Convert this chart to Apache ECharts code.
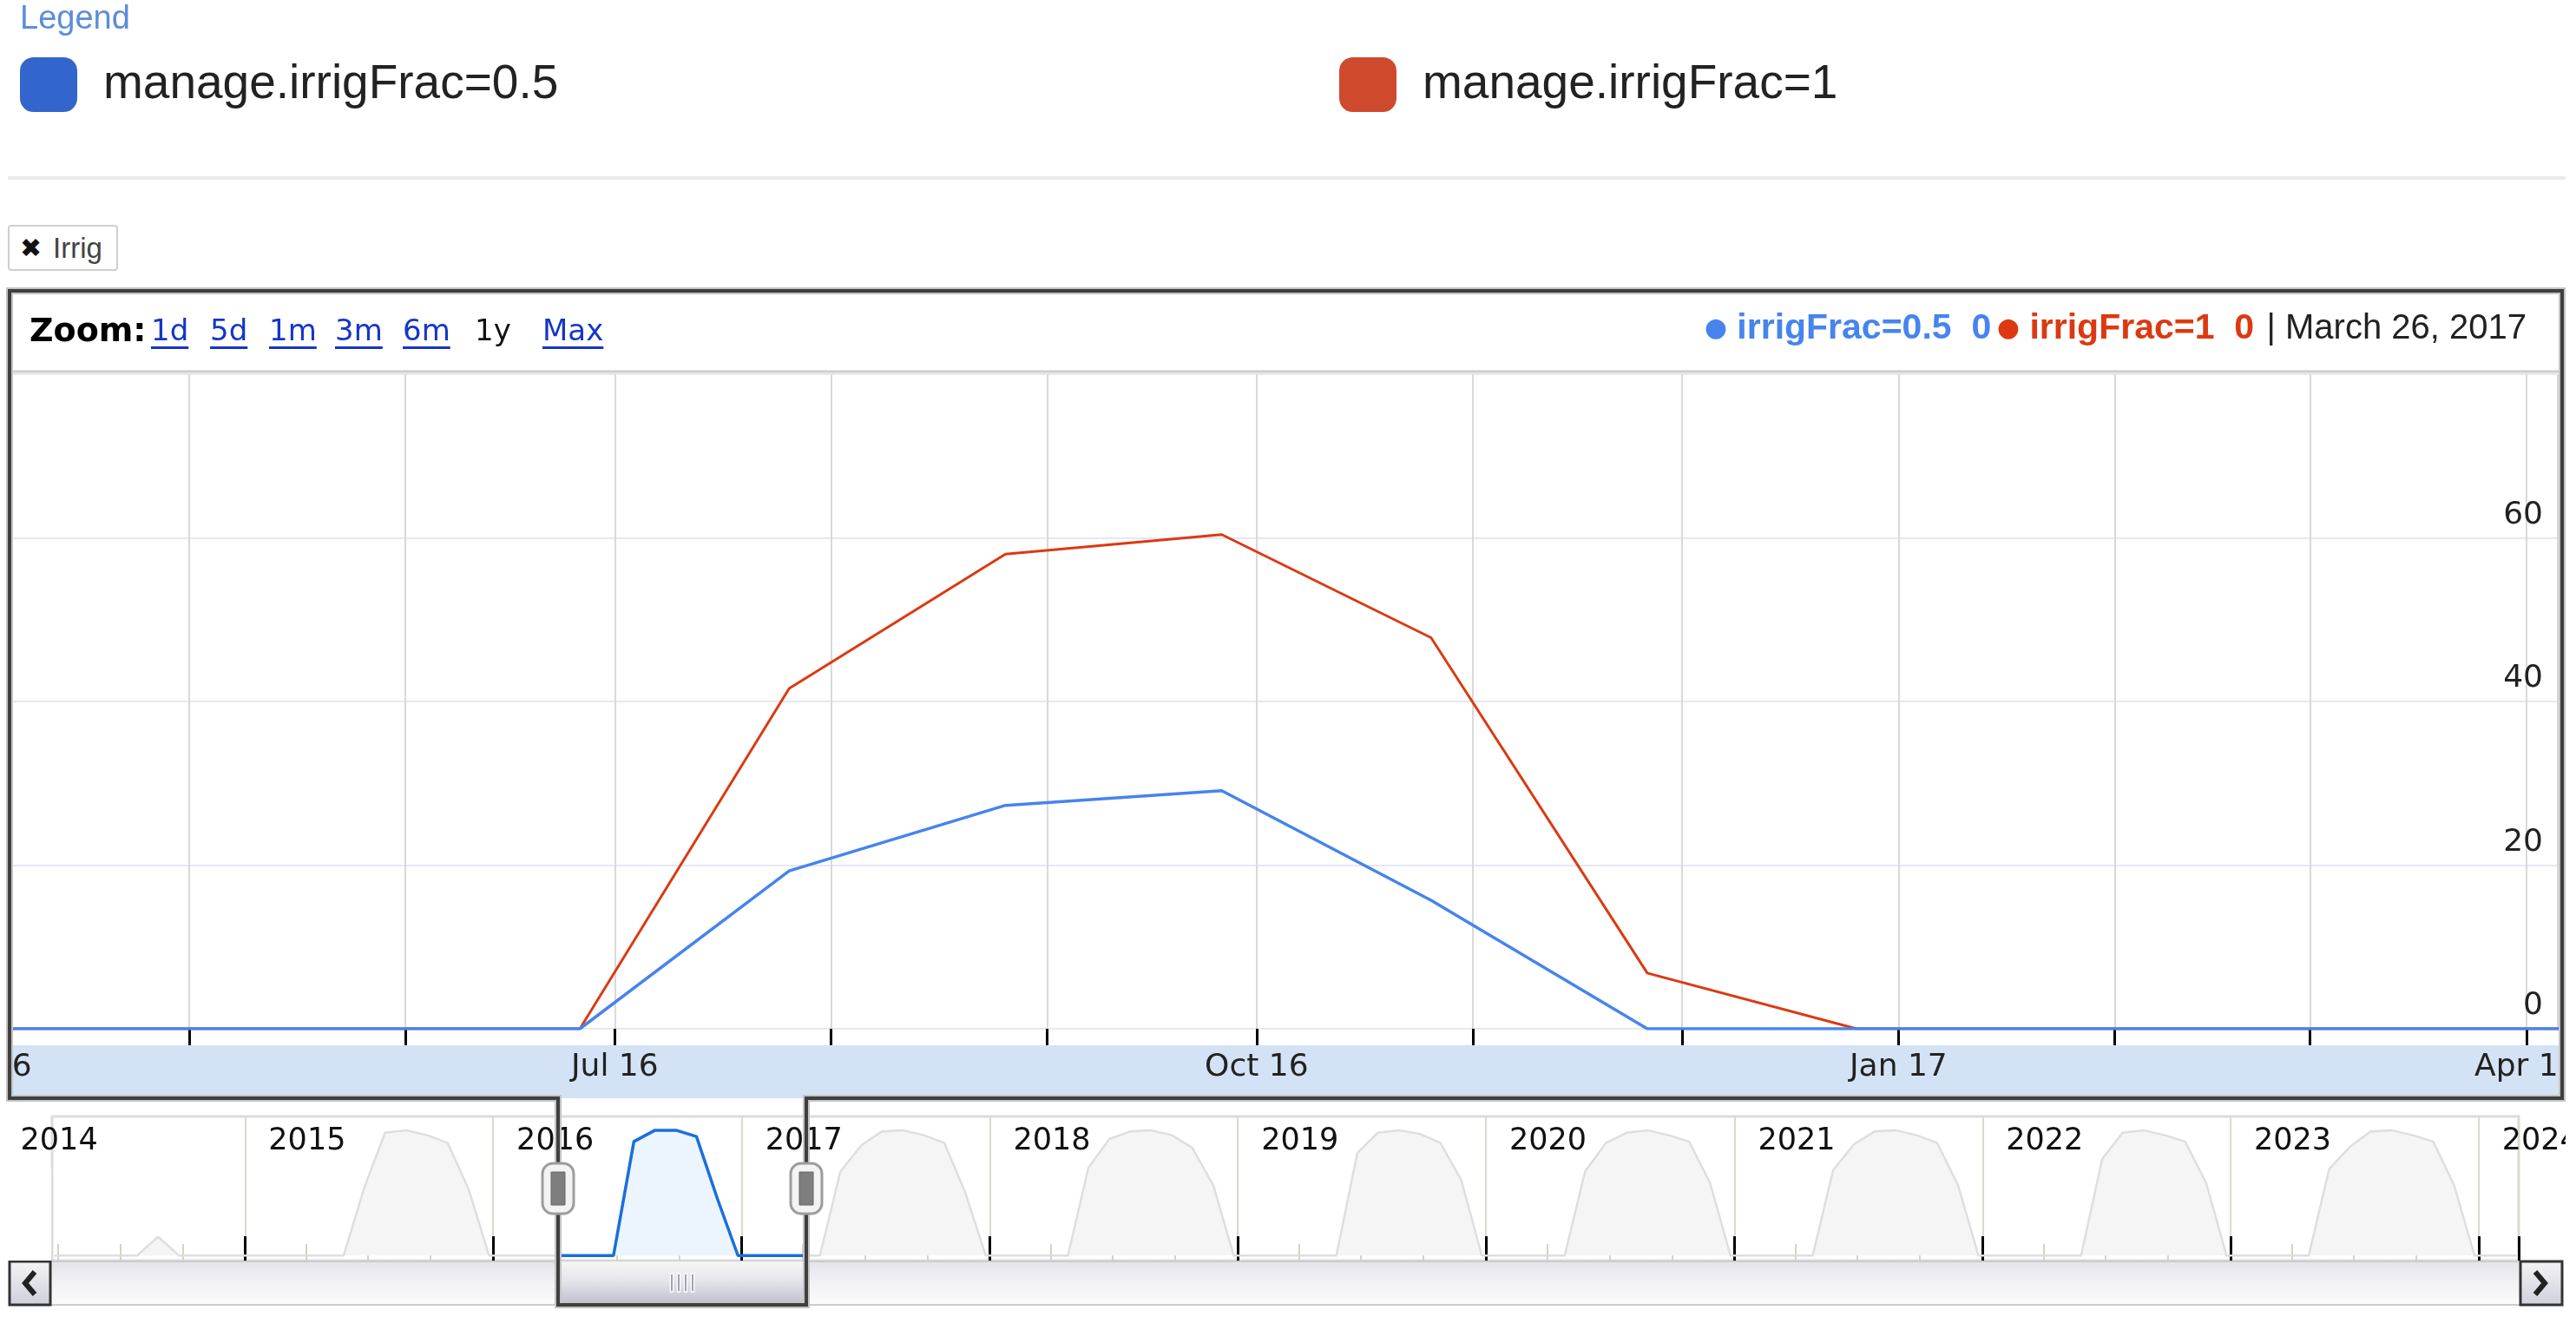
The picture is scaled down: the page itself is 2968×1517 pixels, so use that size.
<!DOCTYPE html>
<html>
<head>
<meta charset="utf-8">
<title>manage.irrigFrac</title>
<script src="https://cdn.jsdelivr.net/npm/echarts@6.0.0/dist/echarts.min.js"></script>
<style>
  html, body { margin: 0; padding: 0; background: #fff; }
  #page { position: relative; width: 2968px; height: 1517px; overflow: hidden; }
  #chart { position: absolute; left: 0; top: 0; width: 2956px; height: 1517px; }
  #irrigBtn {
    position: absolute; left: 9px; top: 259px; width: 123px; height: 49px;
    border: 2px solid #cfcfcf; border-radius: 4px; background: #fff;
    font: 30px "DejaVu Sans"; line-height: 49px; color: #444; z-index: 5;
  }
  #irrigBtn b { position: absolute; left: 12px; color: #111; }
  #irrigBtn span { position: absolute; left: 50px; font-family: "Liberation Sans"; font-size: 33px; }
  #zoomBar { position: absolute; left: 0; top: 360px; height: 40px; z-index: 5; line-height: 40px; }
  #zoomBar span { position: absolute; top: 0; white-space: nowrap; font-family: "DejaVu Sans"; font-size: 34px; }
  #zoomBar .lbl { font-weight: bold; font-size: 38px; color: #000; }
  #zoomBar .lnk { color: #1536c8; text-decoration: underline; text-decoration-thickness: 3px; text-underline-offset: 7px; }
  #zoomBar .cur { color: #111; }
</style>
</head>
<body>
<div id="page">
  <div id="chart"></div>
  <div id="irrigBtn"><b>✖</b><span>Irrig</span></div>
  <div id="zoomBar">
    <span class="lbl" style="left:34px">Zoom:</span>
    <span class="lnk" style="left:174px">1d</span>
    <span class="lnk" style="left:242px">5d</span>
    <span class="lnk" style="left:310px">1m</span>
    <span class="lnk" style="left:386px">3m</span>
    <span class="lnk" style="left:464px">6m</span>
    <span class="cur" style="left:547px">1y</span>
    <span class="lnk" style="left:625px">Max</span>
  </div>
</div>
<script>
// ========================================
// data (monthly samples, the 26th of each month)
// ========================================

const mainDates = [
  '2016-03-26', '2016-04-26', '2016-05-26', '2016-06-26', '2016-07-26',
  '2016-08-26', '2016-09-26', '2016-10-26', '2016-11-26', '2016-12-26',
  '2017-01-26', '2017-02-26', '2017-03-26', '2017-04-26'
];
const irrigHalf = [0, 0, 0, 0, 19.3, 27.3, 29.1, 15.7, 0, 0, 0, 0, 0, 0];
const irrigFull = [0, 0, 0, 0, 41.6, 58.0, 60.4, 47.8, 6.8, 0, 0, 0, 0, 0];

// date shown in the header readout
const readoutDate = '2017-03-26';

const yTicks = [0, 20, 40, 60, 80];

// overview strip, share of the strip height (Mar 2014 .. Feb 2024)
const scope2014 = [0, 0, 0, 0, 0, 0.15, 0, 0, 0, 0]; // Mar..Dec
const scope2015 = [0, 0, 0, 0, 0, 0.55, 0.98, 1.0, 0.96, 0.90, 0.53, 0];
const scope2016 = [0, 0, 0, 0, 0, 0, 0.91, 1.0, 1.0, 0.95, 0.45, 0];
const scope2017 = [0, 0, 0, 0, 0.67, 0.88, 0.99, 1.0, 0.96, 0.90, 0.50, 0];
const scope2018 = [0, 0, 0, 0, 0.70, 0.93, 0.99, 1.0, 0.96, 0.86, 0.56, 0];
const scope2019 = [0, 0, 0, 0, 0, 0.82, 0.98, 1.0, 0.97, 0.90, 0.60, 0];
const scope2020 = [0, 0, 0, 0, 0.67, 0.90, 0.98, 1.0, 0.96, 0.91, 0.58, 0];
const scope2021 = [0, 0, 0, 0, 0.68, 0.89, 0.99, 1.0, 0.96, 0.90, 0.56, 0];
const scope2022 = [0, 0, 0, 0, 0, 0.77, 0.98, 1.0, 0.96, 0.91, 0.58, 0];
const scope2023 = [0, 0, 0, 0, 0.69, 0.87, 0.99, 1.0, 0.96, 0.91, 0.56, 0];
const scope2024 = [0, 0]; // Jan..Feb

const scopeYears = [
  [2014, 3, scope2014], [2015, 1, scope2015], [2016, 1, scope2016],
  [2017, 1, scope2017], [2018, 1, scope2018], [2019, 1, scope2019],
  [2020, 1, scope2020], [2021, 1, scope2021], [2022, 1, scope2022],
  [2023, 1, scope2023], [2024, 1, scope2024]
];

const monthShort = ['Jan', 'Feb', 'Mar', 'Apr', 'May', 'Jun', 'Jul', 'Aug', 'Sep', 'Oct', 'Nov', 'Dec'];
const monthLong = ['January', 'February', 'March', 'April', 'May', 'June', 'July',
  'August', 'September', 'October', 'November', 'December'];

// ========================================
// layout
// ========================================

const W = 2956;
const DAY = 24 * 3600 * 1000;

// visible window (1y zoom)
const viewStart = +new Date(2016, 3, 5, 12);
const viewEnd = +new Date(2017, 3, 5, 12);
const plotL = 13, plotR = 2947, plotTop = 431, plotBottom = 1185;
const mainMin = +new Date(2016, 2, 26);
const msPerPx = (viewEnd - viewStart) / (plotR - plotL);
const mainLeft = plotL - (viewStart - mainMin) / msPerPx;

// overview strip
const navMin = +new Date(2014, 2, 23);
const navMax = +new Date(2024, 1, 29);
const navL = 60, navR = 2902, navTop = 1286, navBottom = 1452;
function navX(t) {
  return navL + (t - navMin) / (navMax - navMin) * (navR - navL);
}
const winL = Math.round(navX(viewStart));
const winR = Math.round(navX(viewEnd));
const yearAxisMin = +new Date(2014, 0, 1);
const yearAxisLeft = navX(yearAxisMin);

const frameL = 11, frameR = 2952, frameTop = 335, frameBottom = 1265;
const barTop = 1453, barBottom = 1503;

// ========================================
// build series data
// ========================================

const halfData = mainDates.map((d, i) => [d, irrigHalf[i]]);
const fullData = mainDates.map((d, i) => [d, irrigFull[i]]);

const scopeData = [];
scopeYears.forEach(([year, firstMonth, vals]) => {
  vals.forEach((v, i) => {
    const m = firstMonth + i;
    scopeData.push([year + '-' + String(m).padStart(2, '0') + '-26', v]);
  });
});

function quarterLabel(value) {
  const d = new Date(value);
  if (d.getDate() !== 1 || d.getHours() !== 0 || d.getMonth() % 3 !== 0) return '';
  return monthShort[d.getMonth()] + ' ' + String(d.getFullYear()).slice(2);
}

function yearLabel(value) {
  const d = new Date(value);
  if (d.getMonth() !== 0 || d.getDate() !== 1) return '';
  return String(d.getFullYear());
}

const readIdx = mainDates.indexOf(readoutDate);
const readDate = new Date(readoutDate + 'T00:00:00');
const dateLabel = monthLong[readDate.getMonth()] + ' ' + readDate.getDate() + ', ' + readDate.getFullYear();

const BLUE = '#4684ee';
const RED = '#dc3912';

// ========================================
// chart
// ========================================

const chart = echarts.init(document.getElementById('chart'));

const barGradient = new echarts.graphic.LinearGradient(0, 0, 0, 1, [
  { offset: 0, color: '#e3e3ea' }, { offset: 0.5, color: '#f2f2f5' }, { offset: 1, color: '#fbfbfb' }
]);
const btnGradient = new echarts.graphic.LinearGradient(0, 0, 0, 1, [
  { offset: 0, color: '#f4f4f7' }, { offset: 1, color: '#cfcfda' }
]);
const thumbGradient = new echarts.graphic.LinearGradient(0, 0, 0, 1, [
  { offset: 0, color: '#f6f6f8' }, { offset: 0.45, color: '#e4e4eb' }, { offset: 1, color: '#bfbfcd' }
]);

const framePoints = [
  [winL, frameBottom], [frameL, frameBottom], [frameL, frameTop], [frameR, frameTop],
  [frameR, frameBottom], [winR, frameBottom], [winR, barBottom], [winL, barBottom]
];

function handle(cx) {
  return [
    { type: 'rect', z: 102, shape: { x: cx - 18, y: 1340, width: 36, height: 58, r: 12 },
      style: { fill: '#f3f3f3', stroke: '#9d9d9d', lineWidth: 3 } },
    { type: 'rect', z: 103, shape: { x: cx - 8, y: 1350, width: 16, height: 38 },
      style: { fill: '#7e7e7e', stroke: '#666', lineWidth: 1 } }
  ];
}

const gripCx = (winL + winR) / 2;
const grip = [-12, -4, 4, 12].map(dx => ({
  type: 'rect', z: 104, shape: { x: gripCx + dx - 1.5, y: 1467, width: 3, height: 21 },
  style: { fill: '#7f8596', stroke: '#ffffff', lineWidth: 1.5 }
}));

const legendText = { fontFamily: 'Liberation Sans', fontSize: 55, color: '#222', padding: [0, 0, 54, 25] };

chart.setOption({
  animation: false,
  backgroundColor: '#fff',
  textStyle: { fontFamily: 'DejaVu Sans' },

  legend: [
    {
      data: [{ name: 'manage.irrigFrac=0.5', itemStyle: { color: '#3366cc' } }],
      left: 18, top: 61, padding: 5,
      icon: 'roundRect', itemWidth: 66, itemHeight: 63, selectedMode: false,
      textStyle: legendText
    },
    {
      data: [{ name: 'manage.irrigFrac=1', itemStyle: { color: '#cf4a2c' } }],
      left: 1538, top: 61, padding: 5,
      icon: 'roundRect', itemWidth: 66, itemHeight: 63, selectedMode: false,
      textStyle: legendText
    }
  ],

  grid: [
    { left: mainLeft, right: W - plotR, top: plotTop, bottom: 1517 - plotBottom, outerBoundsMode: 'none' },
    { left: navL, right: W - navR, top: navTop, bottom: 1517 - navBottom, outerBoundsMode: 'none',
      show: true, borderColor: '#dcdcdc', borderWidth: 3 },
    { left: winL, width: winR - winL, top: navTop, bottom: 1517 - navBottom, outerBoundsMode: 'none' },
    { left: yearAxisLeft, right: W - navR, top: navTop, bottom: 1517 - navBottom, outerBoundsMode: 'none' }
  ],

  xAxis: [
    {
      gridIndex: 0, type: 'time', position: 'bottom', min: mainMin, max: viewEnd,
      minInterval: 28 * DAY, maxInterval: 31 * DAY,
      axisLine: { show: false },
      axisTick: { show: true, length: 19, lineStyle: { color: '#000', width: 3 } },
      splitLine: { show: true, lineStyle: { color: '#d9d9d9', width: 2 } },
      axisLabel: {
        formatter: quarterLabel, margin: 45, verticalAlign: 'middle',
        fontSize: 36, color: '#222', fontFamily: 'DejaVu Sans'
      }
    },
    {
      gridIndex: 3, type: 'time', position: 'top', min: yearAxisMin, max: navMax,
      minInterval: 365 * DAY, maxInterval: 366 * DAY,
      axisLine: { show: false }, axisTick: { show: false },
      splitLine: { show: true, lineStyle: { color: '#d6dccd', width: 2 } },
      axisLabel: {
        inside: true, formatter: yearLabel, margin: 11, align: 'left', verticalAlign: 'top',
        padding: [0, 0, 0, 27], fontSize: 35, color: '#111', fontFamily: 'DejaVu Sans'
      }
    },
    {
      gridIndex: 3, type: 'time', position: 'bottom', min: yearAxisMin, max: navMax,
      minInterval: 89 * DAY, maxInterval: 92 * DAY,
      axisLine: { show: false }, splitLine: { show: false }, axisLabel: { show: false },
      axisTick: { show: true, inside: true, length: 19, lineStyle: { color: '#cdd6c3', width: 2 } }
    },
    {
      gridIndex: 3, type: 'time', position: 'bottom', min: yearAxisMin, max: navMax,
      minInterval: 365 * DAY, maxInterval: 366 * DAY,
      axisLine: { show: false }, splitLine: { show: false }, axisLabel: { show: false },
      axisTick: { show: true, inside: true, length: 28, lineStyle: { color: '#000', width: 3 } }
    },
    { gridIndex: 2, type: 'time', min: viewStart, max: viewEnd, show: false },
    { gridIndex: 1, type: 'time', min: navMin, max: navMax, show: false }
  ],

  yAxis: [
    {
      gridIndex: 0, type: 'value', position: 'right',
      min: yTicks[0], max: yTicks[yTicks.length - 1], interval: yTicks[1] - yTicks[0],
      axisLine: { show: false }, axisTick: { show: false },
      splitLine: { show: true, lineStyle: { color: '#e6e8f4', width: 2 } },
      axisLabel: {
        inside: true, margin: 17, verticalAlign: 'bottom', showMaxLabel: false,
        padding: [0, 0, 8, 0], fontSize: 36, color: '#222', fontFamily: 'DejaVu Sans'
      }
    },
    { gridIndex: 1, type: 'value', min: -0.04, max: 1.11, show: false },
    { gridIndex: 2, type: 'value', min: -0.04, max: 1.11, show: false },
    { gridIndex: 3, type: 'value', min: -0.04, max: 1.11, show: false }
  ],

  series: [
    {
      name: 'manage.irrigFrac=0.5', type: 'line', xAxisIndex: 0, yAxisIndex: 0,
      data: halfData, symbol: 'none', z: 4, clip: true,
      itemStyle: { color: BLUE }, lineStyle: { color: BLUE, width: 3.5 }
    },
    {
      name: 'manage.irrigFrac=1', type: 'line', xAxisIndex: 0, yAxisIndex: 0,
      data: fullData, symbol: 'none', z: 3, clip: true,
      itemStyle: { color: RED }, lineStyle: { color: RED, width: 3 }
    },
    {
      name: 'scope', type: 'line', xAxisIndex: 5, yAxisIndex: 1,
      data: scopeData, symbol: 'none', silent: true, z: 2,
      lineStyle: { color: '#dedede', width: 2.5 },
      areaStyle: { color: '#f5f5f5', opacity: 1 }
    },
    {
      name: 'scopeWindow', type: 'line', xAxisIndex: 4, yAxisIndex: 2,
      data: scopeData, symbol: 'none', silent: true, z: 3, clip: true,
      lineStyle: { color: '#1a6fdc', width: 3.5 },
      areaStyle: { color: '#ecf4fd', opacity: 1 }
    }
  ],

  graphic: [
    // legend title
    { type: 'text', x: 23, y: 4, style: { text: 'Legend', fill: '#5b8dd9', fontSize: 38, fontFamily: 'Liberation Sans', verticalAlign: 'top' } },
    { type: 'line', shape: { x1: 9, y1: 205, x2: W, y2: 205 }, style: { stroke: '#ececec', lineWidth: 4 } },

    // header readout
    {
      type: 'text', x: 2911, y: 379,
      style: {
        align: 'right', verticalAlign: 'middle',
        text: '{bd|●}{b| irrigFrac=0.5  ' + irrigHalf[readIdx] + '}  {rd|●}{r| irrigFrac=1  ' +
          irrigFull[readIdx] + '} {g| | ' + dateLabel + '}',
        rich: {
          bd: { fill: BLUE, fontSize: 30, fontFamily: 'DejaVu Sans' },
          b: { fill: BLUE, fontSize: 41, fontWeight: 'bold', fontFamily: 'Liberation Sans' },
          rd: { fill: RED, fontSize: 30, fontFamily: 'DejaVu Sans' },
          r: { fill: RED, fontSize: 41, fontWeight: 'bold', fontFamily: 'Liberation Sans' },
          g: { fill: '#222', fontSize: 40, fontFamily: 'Liberation Sans' }
        }
      }
    },
    { type: 'line', z: 90, shape: { x1: frameL, y1: 428, x2: frameR, y2: 428 }, style: { stroke: '#cdcdcd', lineWidth: 3 } },

    // axis band
    { type: 'rect', z: -1, shape: { x: frameL, y: 1204, width: frameR - frameL, height: frameBottom - 1204 }, style: { fill: '#d3e3f5' } },
    // hide what the extended grids draw outside the frame
    { type: 'rect', z: 50, shape: { x: 0, y: plotTop - 4, width: frameL, height: frameBottom - plotTop + 8 }, style: { fill: '#fff' } },
    { type: 'rect', z: 50, shape: { x: 0, y: navTop + 60, width: navL - 1, height: navBottom - navTop - 60 }, style: { fill: '#fff' } },

    // scrollbar
    { type: 'rect', z: 10, shape: { x: 58, y: barTop, width: 2904 - 58, height: barBottom - barTop }, style: { fill: barGradient, stroke: '#cccccc', lineWidth: 2 } },
    { type: 'rect', z: 11, shape: { x: frameL, y: barTop, width: 58 - frameL, height: barBottom - barTop }, style: { fill: btnGradient, stroke: '#333', lineWidth: 3 } },
    { type: 'polyline', z: 12, shape: { points: [[40, 1465], [29, 1478], [40, 1491]] }, style: { stroke: '#222', lineWidth: 6, fill: null } },
    { type: 'rect', z: 11, shape: { x: 2904, y: barTop, width: frameR - 2904, height: barBottom - barTop }, style: { fill: btnGradient, stroke: '#333', lineWidth: 3 } },
    { type: 'polyline', z: 12, shape: { points: [[2921, 1465], [2932, 1478], [2921, 1491]] }, style: { stroke: '#222', lineWidth: 6, fill: null } },
    { type: 'rect', z: 13, shape: { x: winL, y: barTop, width: winR - winL, height: barBottom - barTop }, style: { fill: thumbGradient } },
    ...grip,

    // frame around the zoomed chart and the window
    { type: 'polygon', z: 99, shape: { points: framePoints }, style: { fill: null, stroke: '#c4c4c4', lineWidth: 8 } },
    { type: 'polygon', z: 100, shape: { points: framePoints }, style: { fill: null, stroke: '#3f3f3f', lineWidth: 4 } },

    ...handle(winL),
    ...handle(winR)
  ]
});
</script>
</body>
</html>
